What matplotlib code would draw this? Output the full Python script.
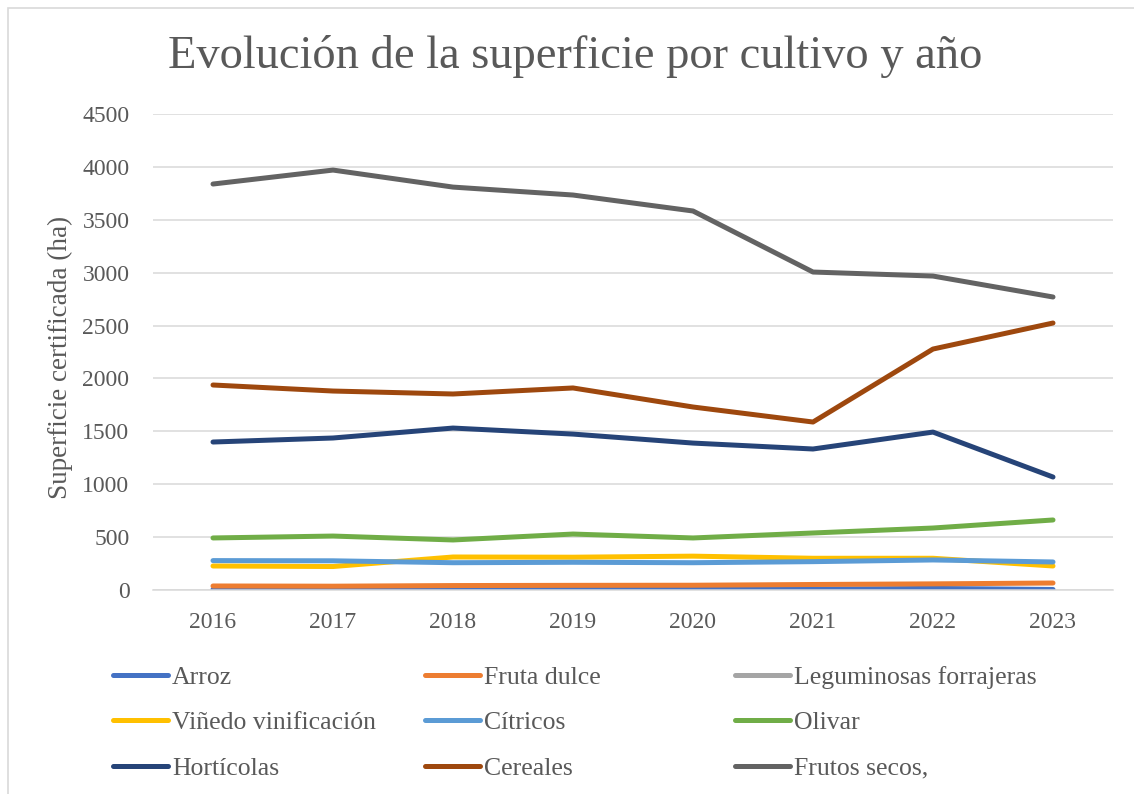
import matplotlib
matplotlib.use("Agg")
import matplotlib.pyplot as plt
import numpy as np

years = ["2016", "2017", "2018", "2019", "2020", "2021", "2022", "2023"]

arroz = [5, 6, 6, 6, 5, 8, 15, 5]
fruta_dulce = [38, 36, 42, 44, 45, 52, 58, 66]
leguminosas = [None] * 8
vinedo = [227, 222, 312, 310, 320, 300, 300, 227]
citricos = [278, 276, 258, 262, 258, 268, 284, 265]
olivar = [492, 510, 473, 529, 492, 539, 586, 662]
horticolas = [1399, 1437, 1531, 1474, 1389, 1333, 1493, 1068]
cereales = [1938, 1881, 1853, 1910, 1730, 1588, 2278, 2524]
frutos_secos = [3838, 3970, 3809, 3734, 3583, 3006, 2968, 2770]

names = ["Arroz", "Fruta dulce", "Leguminosas forrajeras", "Viñedo vinificación",
         "Cítricos", "Olivar", "Hortícolas", "Cereales", "Frutos secos,"]
series = [arroz, fruta_dulce, leguminosas, vinedo, citricos, olivar,
          horticolas, cereales, frutos_secos]
colors = ["#4472C4", "#ED7D31", "#A5A5A5", "#FFC000", "#5B9BD5", "#70AD47",
          "#264478", "#9E480E", "#636363"]

yticks = [0, 500, 1000, 1500, 2000, 2500, 3000, 3500, 4000, 4500]

FONT = "Liberation Serif"
TXT = "#595959"

fig = plt.figure(figsize=(11.34, 7.94), dpi=100)
fig.patch.set_facecolor("white")
ax = fig.add_axes([153/1134, 1-590/794, 960/1134, 476/794])

x = np.arange(len(years))
handles = []
for name, vals, col in zip(names, series, colors):
    v = np.array([np.nan if a is None else a for a in vals], dtype=float)
    h, = ax.plot(x, v, color=col, lw=3.6, solid_capstyle="round",
                 solid_joinstyle="round", label=name)
    handles.append(h)

ax.set_xlim(-0.5, len(years)-0.5)
ax.set_ylim(0, 4500)
ax.set_yticks(yticks)
ax.set_yticklabels([str(t) for t in yticks])
ax.set_xticks(x)
ax.set_xticklabels(years)
ax.grid(axis="y", color="#D9D9D9", lw=1.1)
ax.set_axisbelow(True)
for s in ["top", "right", "left"]:
    ax.spines[s].set_visible(False)
ax.spines["bottom"].set_color("#D9D9D9")
ax.spines["bottom"].set_linewidth(1.1)
ax.tick_params(axis="both", length=0, labelsize=17, labelcolor=TXT)
ax.tick_params(axis="y", pad=17)
ax.tick_params(axis="x", pad=16)
for lab in ax.get_xticklabels() + ax.get_yticklabels():
    lab.set_fontfamily(FONT)

fig.text(60/1134, 1-357/794, "Superficie certificada (ha)", rotation=90,
         ha="center", va="center", fontsize=19.5, color=TXT, family=FONT)
fig.text(575/1134, 1-56/794, "Evolución de la superficie por cultivo y año",
         ha="center", va="center", fontsize=33.5, color=TXT, family=FONT)

# legend: three columns, row-major order
col_x = [113/1134, 425/1134, 735/1134]
for c in range(3):
    hs = [handles[c], handles[c+3], handles[c+6]]
    leg = fig.legend(handles=hs, loc="upper left",
                     bbox_to_anchor=(col_x[c], 1-666/794), frameon=False,
                     handlelength=2.15, handletextpad=0.15, labelspacing=0.87,
                     borderpad=0, borderaxespad=0,
                     prop={"family": FONT, "size": 18.5})
    for t in leg.get_texts():
        t.set_color(TXT)

# chart border
border = plt.Rectangle((8/1134, -0.01), 1.02, 1-8/794+0.01, transform=fig.transFigure,
                       fill=False, edgecolor="#D9D9D9", lw=1.2)
fig.patches.append(border)

fig.savefig("out.png", dpi=100, facecolor="white")
